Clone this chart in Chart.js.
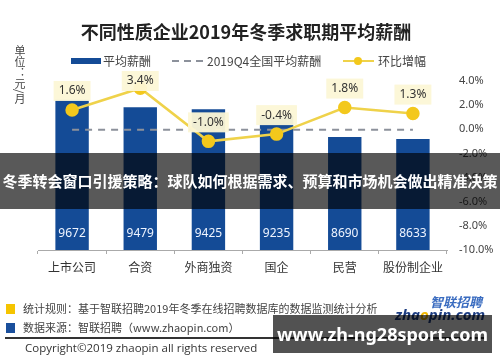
<!DOCTYPE html>
<html>
<head>
<meta charset="utf-8">
<script src="https://cdn.jsdelivr.net/npm/chart.js@4.4.1/dist/chart.umd.min.js"></script>
<style>
html, body { margin: 0; padding: 0; background: #fff; }
#wrap { position: relative; width: 500px; height: 362px; overflow: hidden; font-family: "Noto Sans", "Noto Sans CJK SC", sans-serif; }
#c { position: absolute; left: 0; top: 0; }
.abs { position: absolute; white-space: nowrap; }
.cjk { font-family: "Noto Sans CJK SC", sans-serif; }
#title { top: 19px; left: 0; width: 492px; text-align: center; font-size: 18px; font-weight: bold; color: #222; line-height: 24px; }
#unit { left: 14px; top: 45px; writing-mode: vertical-rl; font-size: 11px; line-height: 12px; color: #444; }
.lg { top: 53px; font-size: 12px; line-height: 16px; color: #444; }
.foot { font-size: 11px; line-height: 14px; color: #444; }
#banner { left: 0; top: 153px; width: 500px; height: 56px; background: rgba(0,0,0,0.65); color: #fff; font-weight: bold; font-size: 15px; line-height: 56px; text-align: center; z-index: 5; }
#mark { left: 273px; top: 315px; width: 219px; height: 38px; background: rgba(0,0,0,0.68); color: #fff; font-weight: bold; font-size: 18px; line-height: 38px; text-align: center; z-index: 5; font-family: "Noto Sans", sans-serif; }
</style>
</head>
<body>
<div id="wrap">
  <canvas id="c" width="500" height="362"></canvas>

  <div id="title" class="abs cjk">不同性质企业2019年冬季求职期平均薪酬</div>
  <div id="unit" class="abs cjk">单位：元/月</div>

  <!-- legend -->
  <div class="abs" style="left:71px;top:58px;width:30px;height:6px;background:#144b96;"></div>
  <div class="abs lg cjk" style="left:103px;">平均薪酬</div>
  <div class="abs" style="left:172px;top:60px;width:32px;height:2px;background:repeating-linear-gradient(to right,#8c919b 0 7px,transparent 7px 12px);"></div>
  <div class="abs lg cjk" style="left:207px;">2019Q4全国平均薪酬</div>
  <div class="abs" style="left:343px;top:60px;width:31px;height:2px;background:#efd24a;"></div>
  <div class="abs" style="left:354px;top:57px;width:8px;height:8px;border-radius:50%;background:#f3c81c;"></div>
  <div class="abs lg cjk" style="left:378px;">环比增幅</div>

  <!-- footer -->
  <div class="abs" style="left:6px;top:304px;width:9px;height:10px;background:#f5c400;"></div>
  <div class="abs foot cjk" style="left:23px;top:301px;">统计规则：基于智联招聘2019年冬季在线招聘数据库的数据监测统计分析</div>
  <div class="abs" style="left:6px;top:323px;width:9px;height:10px;background:#1a4f9c;"></div>
  <div class="abs foot cjk" style="left:23px;top:320px;">数据来源：智联招聘（www.zhaopin.com）</div>
  <div class="abs" style="left:5px;top:337px;width:481px;height:1.5px;background:#333;"></div>
  <div class="abs" style="left:25px;top:341px;font-size:11.5px;line-height:14px;color:#333;font-family:'Open Sans',sans-serif;">Copyright©2019 zhaopin all rights reserved</div>
  <div class="abs cjk" style="left:430px;top:294px;font-size:13px;line-height:16px;font-weight:bold;font-style:italic;color:#3a6cc0;">智联招聘</div>
  <div class="abs" style="left:395px;top:305px;font-size:15px;line-height:18px;font-weight:bold;font-style:italic;color:#1d3d82;">zha<span style="color:#f2b800;">o</span>pin.com</div>

  <!-- overlays -->
  <div id="banner" class="abs cjk">冬季转会窗口引援策略：球队如何根据需求、预算和市场机会做出精准决策</div>
  <div id="mark" class="abs">www.zh-ng28sport.com</div>
</div>

<script>
var categories = ['上市公司', '合资', '外商独资', '国企', '民营', '股份制企业'];
var avgSalary = [9672, 9479, 9425, 9235, 8690, 8633];
var growthPct = [1.6, 3.4, -1.0, -0.4, 1.8, 1.3];
var nationalAvg = 8880;

var navy = '#144b96';
var yellowLine = '#efd24a';
var yellowPoint = '#f3c81c';

Chart.defaults.font.family = '"Noto Sans", "Noto Sans CJK SC", sans-serif';
Chart.defaults.color = '#444';

// value labels on bars and boxed labels over the points
var valueLabels = {
    id: 'valueLabels',
    afterDatasetsDraw: function (chart) {
        var ctx = chart.ctx;
        var area = chart.chartArea;
        ctx.save();
        ctx.font = '12px "Noto Sans", sans-serif';
        ctx.textAlign = 'center';
        ctx.textBaseline = 'middle';

        ctx.fillStyle = '#eef4ff';
        chart.getDatasetMeta(0).data.forEach(function (bar, i) {
            ctx.fillText(String(avgSalary[i]), bar.x, area.bottom - 16);
        });

        chart.getDatasetMeta(2).data.forEach(function (pt, i) {
            var txt = growthPct[i].toFixed(1) + '%';
            var w = ctx.measureText(txt).width + 10;
            var y = Math.max(pt.y - 19, area.top);
            ctx.fillStyle = 'rgba(252,247,214,0.95)';
            ctx.fillRect(pt.x - w / 2, y - 10, w, 20);
            ctx.fillStyle = '#333';
            ctx.fillText(txt, pt.x, y);
        });
        ctx.restore();
    }
};

var chart = new Chart(document.getElementById('c'), {
    type: 'bar',
    data: {
        labels: categories,
        datasets: [
            {
                label: '平均薪酬',
                data: avgSalary,
                backgroundColor: navy,
                yAxisID: 'y',
                barPercentage: 0.49,
                categoryPercentage: 1,
                order: 2
            },
            {
                type: 'line',
                label: '2019Q4全国平均薪酬',
                data: categories.map(function () { return nationalAvg; }),
                borderColor: '#8c919b',
                borderWidth: 2,
                borderDash: [7, 6],
                pointRadius: 0,
                fill: false,
                yAxisID: 'y',
                order: 1
            },
            {
                type: 'line',
                label: '环比增幅',
                data: growthPct,
                borderColor: yellowLine,
                borderWidth: 2.5,
                pointRadius: 5.5,
                pointBackgroundColor: yellowPoint,
                pointBorderColor: yellowPoint,
                tension: 0,
                fill: false,
                yAxisID: 'y1',
                order: 0
            }
        ]
    },
    options: {
        responsive: false,
        animation: false,
        layout: { padding: { left: 38, right: 0, top: 81, bottom: 82 } },
        plugins: {
            legend: { display: false },
            tooltip: { enabled: false },
            title: { display: false }
        },
        scales: {
            x: {
                grid: { drawOnChartArea: false, drawTicks: true, tickLength: 4, color: '#aaa' },
                border: { display: true, color: '#aaa' },
                ticks: { padding: 6, color: '#333', font: { size: 12, family: '"Noto Sans CJK SC", sans-serif' } },
                afterFit: function (scale) { scale.height = 30; }
            },
            y: {
                display: false,
                min: 5700,
                max: 10170
            },
            y1: {
                position: 'right',
                min: -10,
                max: 4,
                grid: { display: false, drawTicks: false },
                border: { display: false },
                ticks: {
                    stepSize: 2,
                    padding: 12,
                    color: '#444',
                    font: { size: 11 },
                    callback: function (v) { return v.toFixed(1) + '%'; }
                },
                afterFit: function (scale) { scale.width = 53; }
            }
        }
    },
    plugins: [valueLabels]
});
</script>
</body>
</html>
